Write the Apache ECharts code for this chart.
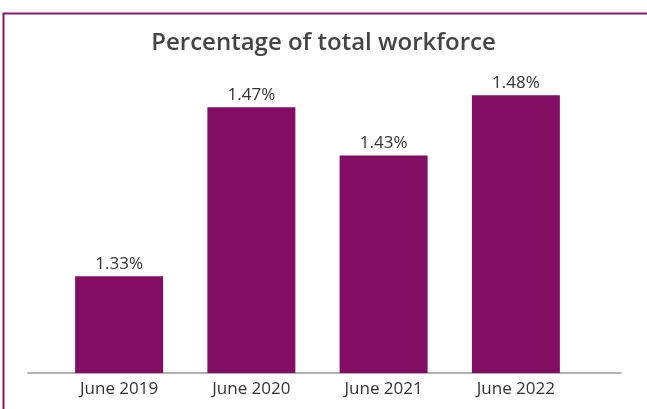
<!DOCTYPE html>
<html><head><meta charset="utf-8">
<script src="https://cdn.jsdelivr.net/npm/echarts@6/dist/echarts.min.js"></script>
<style>html,body{margin:0;padding:0;background:#fff}#c{width:647px;height:409px}</style>
</head><body><div id="c"></div>
<script>
const categories = ['June 2019', 'June 2020', 'June 2021', 'June 2022'];
const values = [1.33, 1.47, 1.43, 1.48];
const titleText = 'Percentage of total workforce';

const chart = echarts.init(document.getElementById('c'), null, {renderer: 'canvas'});
const font = '"Open Sans", Lato, sans-serif';
chart.setOption({
  animation: false,
  graphic: [{
    type: 'rect', left: 1, top: 11,
    shape: {width: 700, height: 500},
    style: {fill: 'none', stroke: '#851a6b', lineWidth: 2}
  }],
  title: {
    text: titleText, left: 'center', top: 26,
    textStyle: {fontFamily: font, fontWeight: 600, fontSize: 24, color: '#444'}
  },
  grid: [
    {left: 53, right: 65, top: 71, bottom: 36},
    {left: 28, right: 26, top: 71, bottom: 36}
  ],
  xAxis: [
    {type: 'category', data: categories, gridIndex: 0,
     axisLine: {show: false}, axisTick: {show: false},
     axisLabel: {fontFamily: font, fontSize: 17, color: '#333', margin: 8}},
    {type: 'category', data: [''], gridIndex: 1,
     axisLine: {show: true, lineStyle: {color: '#999', width: 1.5}},
     axisTick: {show: false}, axisLabel: {show: false}}
  ],
  yAxis: [
    {type: 'value', min: 1.25, max: 1.5, gridIndex: 0, show: false, splitLine: {show: false}},
    {type: 'value', min: 0, max: 1, gridIndex: 1, show: false, splitLine: {show: false}}
  ],
  series: [{
    type: 'bar', data: values, xAxisIndex: 0, yAxisIndex: 0,
    barWidth: 88,
    itemStyle: {color: '#820e64'},
    label: {show: true, position: 'top', distance: 4,
      formatter: p => p.value.toFixed(2) + '%',
      fontFamily: font, fontSize: 17, color: '#333'}
  }]
});
</script></body></html>
